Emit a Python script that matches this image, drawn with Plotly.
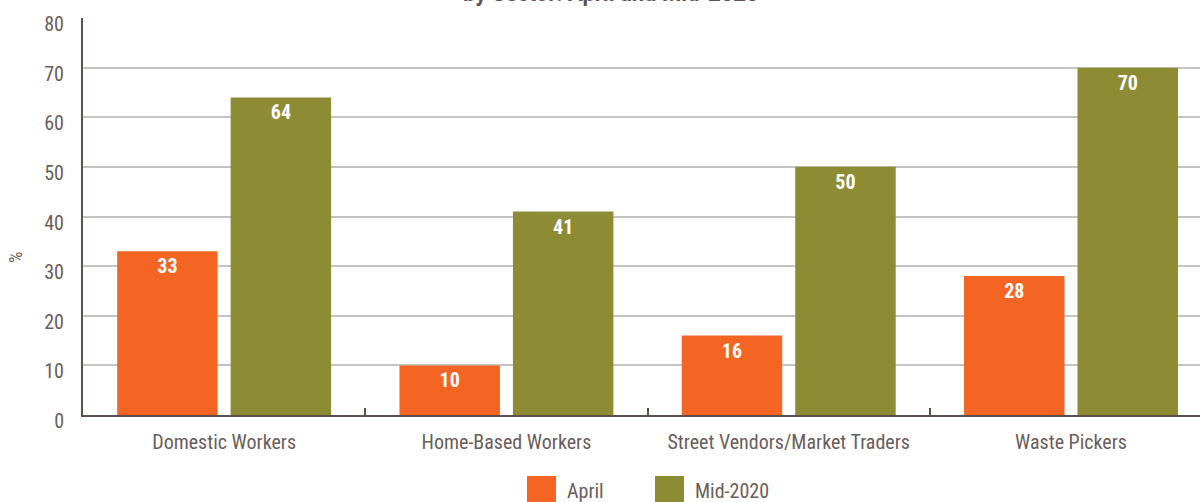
import plotly.graph_objects as go

categories = ["Domestic Workers", "Home-Based Workers", "Street Vendors/Market Traders", "Waste Pickers"]
april = [33, 10, 16, 28]
mid2020 = [64, 41, 50, 70]
series_names = ["April", "Mid-2020"]
y_ticks = [0, 10, 20, 30, 40, 50, 60, 70, 80]

ORANGE = "#F46524"
OLIVE = "#8D8C35"
TXT = "#6A5D5C"
AXIS = "#5C4F4E"
GRID = "#C8C3C3"
FONT = "Roboto Condensed, Liberation Sans Narrow, Roboto, sans-serif"

fig = go.Figure()
for name, vals, col in [(series_names[0], april, ORANGE), (series_names[1], mid2020, OLIVE)]:
    fig.add_trace(go.Bar(
        x=categories, y=vals, name=name, marker_color=col, marker_line_width=0,
        text=[str(v) for v in vals], textposition="inside", insidetextanchor="end",
        textangle=0,
        textfont=dict(color="white", size=20, family=FONT, weight="bold"),
        showlegend=False,
    ))

fig.update_layout(
    width=1200, height=502,
    margin=dict(l=83, r=0, t=18, b=87),
    barmode="group", bargap=0.196, bargroupgap=0.1145,
    plot_bgcolor="white", paper_bgcolor="white",
    font=dict(family=FONT, color=TXT, size=20),
)
fig.update_xaxes(
    range=[-0.5, 3.457], showgrid=False,
    showline=True, linecolor=AXIS, linewidth=2,
    ticks="inside", tickson="boundaries", ticklen=7, tickcolor=AXIS, tickwidth=2,
    tickfont=dict(size=20, color=TXT), ticklabelstandoff=8,
)
fig.update_yaxes(
    range=[0, 80], tickvals=y_ticks, showgrid=True, gridcolor=GRID, gridwidth=1.5,
    showline=True, linecolor=AXIS, linewidth=2, zeroline=False,
    ticks="", tickfont=dict(size=20, color=TXT), ticklabelstandoff=13,
    ticklabelshift=6,
)

# Y-axis title
fig.add_annotation(
    text="%", xref="paper", yref="paper", x=(15 - 83) / 1117, y=(415 - 258) / 397,
    xanchor="center", yanchor="middle", textangle=-90, showarrow=False,
    font=dict(size=18, color=TXT),
)

# Title (first line clipped off the top of the frame)
fig.add_annotation(
    text="<b>by Sector: April and Mid-2020</b>", xref="paper", yref="paper",
    x=0.473, y=1.025, xanchor="center", yanchor="bottom", showarrow=False,
    font=dict(size=22, color="#5F5150", family="Roboto, sans-serif"),
)

# Legend drawn as shapes + text
leg = [(series_names[0], ORANGE, 527), (series_names[1], OLIVE, 655)]
for name, col, px in leg:
    x0 = (px - 83) / 1117
    x1 = (px + 29 - 83) / 1117
    fig.add_shape(type="rect", xref="paper", yref="paper",
                  x0=x0, x1=x1, y0=(415 - 502) / 397, y1=(415 - 476) / 397,
                  fillcolor=col, line_width=0)
    fig.add_annotation(text=name, xref="paper", yref="paper",
                       x=(px + 38 - 83) / 1117, y=(415 - 491) / 397,
                       xanchor="left", yanchor="middle", showarrow=False,
                       font=dict(size=20, color=TXT))

fig.write_html("out.html")
